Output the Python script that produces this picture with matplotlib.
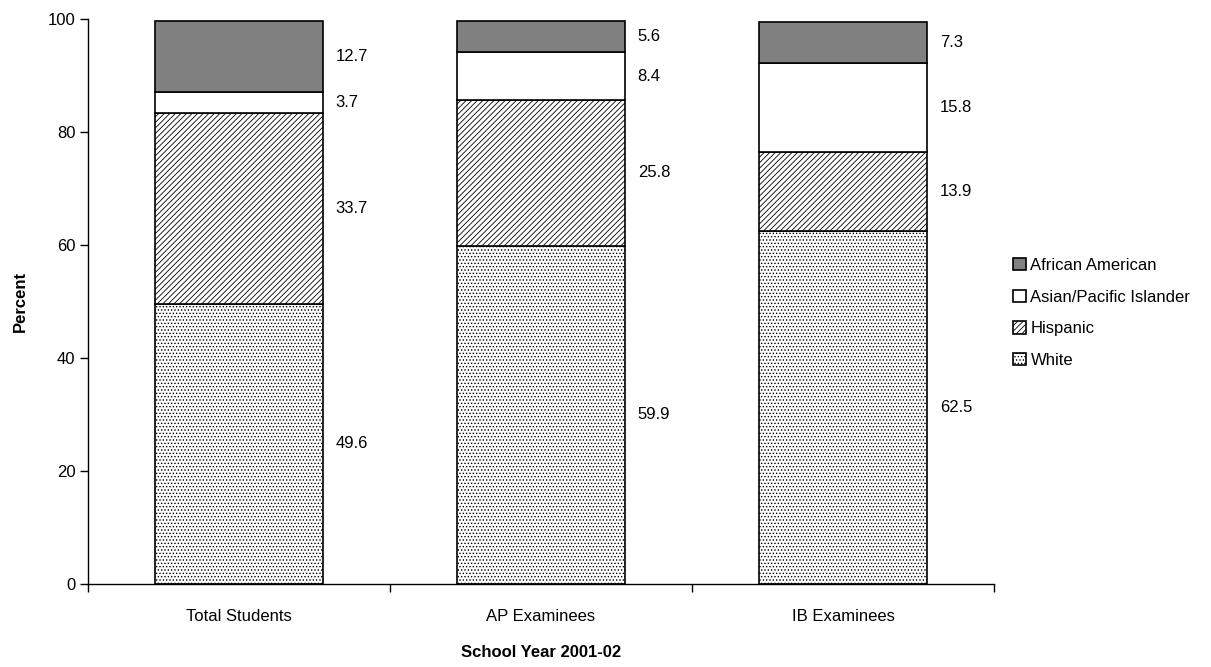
import matplotlib.pyplot as plt
import numpy as np

plt.rcParams['font.family'] = ['Liberation Sans', 'DejaVu Sans']
plt.rcParams['hatch.linewidth'] = 0.6

categories = ['Total Students', 'AP Examinees', 'IB Examinees']
groups = ['White', 'Hispanic', 'Asian/Pacific Islander', 'African American']
white = [49.6, 59.9, 62.5]
hispanic = [33.7, 25.8, 13.9]
asian = [3.7, 8.4, 15.8]
african = [12.7, 5.6, 7.3]

series = [white, hispanic, asian, african]
faces = ['white', 'white', 'white', '#808080']
hatches = ['.....', '//////', None, None]
fs = 12

fig = plt.figure(figsize=(12.11, 6.67), dpi=100)
ax = fig.add_axes([88 / 1211, 83 / 667, 906 / 1211, 565 / 667])

x = np.arange(len(categories))
bottom = np.zeros(len(categories))
handles = []
for vals, fc, h, name in zip(series, faces, hatches, groups):
    bars = ax.bar(x, vals, width=0.553, bottom=bottom, color=fc, edgecolor='black',
                  linewidth=1.2, hatch=h, label=name)
    handles.append(bars)
    for xi, b, v in zip(x, bottom, vals):
        ax.text(xi + 0.32, b + v / 2, f'{v:.1f}', ha='left', va='center', fontsize=fs)
    bottom += np.array(vals)

ax.set_xlim(-0.5, 2.5)
ax.set_ylim(0, 100)
ax.set_yticks(range(0, 101, 20))
ax.set_xticks(x)
ax.set_xticklabels(categories, fontsize=fs)
ax.set_xticks([-0.5, 0.5, 1.5, 2.5], minor=True)
ax.tick_params(axis='x', which='major', length=0, pad=18)
ax.tick_params(axis='x', which='minor', length=6, direction='out', width=1)
ax.tick_params(axis='y', length=6, direction='out', width=1, labelsize=fs, pad=3)
for s in ['top', 'right']:
    ax.spines[s].set_visible(False)
ax.spines['left'].set_linewidth(1)
ax.spines['bottom'].set_linewidth(1)

ax.set_ylabel('Percent', fontsize=fs, fontweight='bold', labelpad=14)
ax.set_xlabel('School Year 2001-02', fontsize=fs, fontweight='bold', labelpad=15)

# legend block centred around y=313 px from the top
leg = fig.legend(handles[::-1], groups[::-1], loc='center left',
                 bbox_to_anchor=(998 / 1211, (667 - 313) / 667), frameon=False,
                 fontsize=fs, handlelength=0.75, handleheight=0.75,
                 handletextpad=0.3, labelspacing=1.0)

fig.savefig('out.png', dpi=100)
